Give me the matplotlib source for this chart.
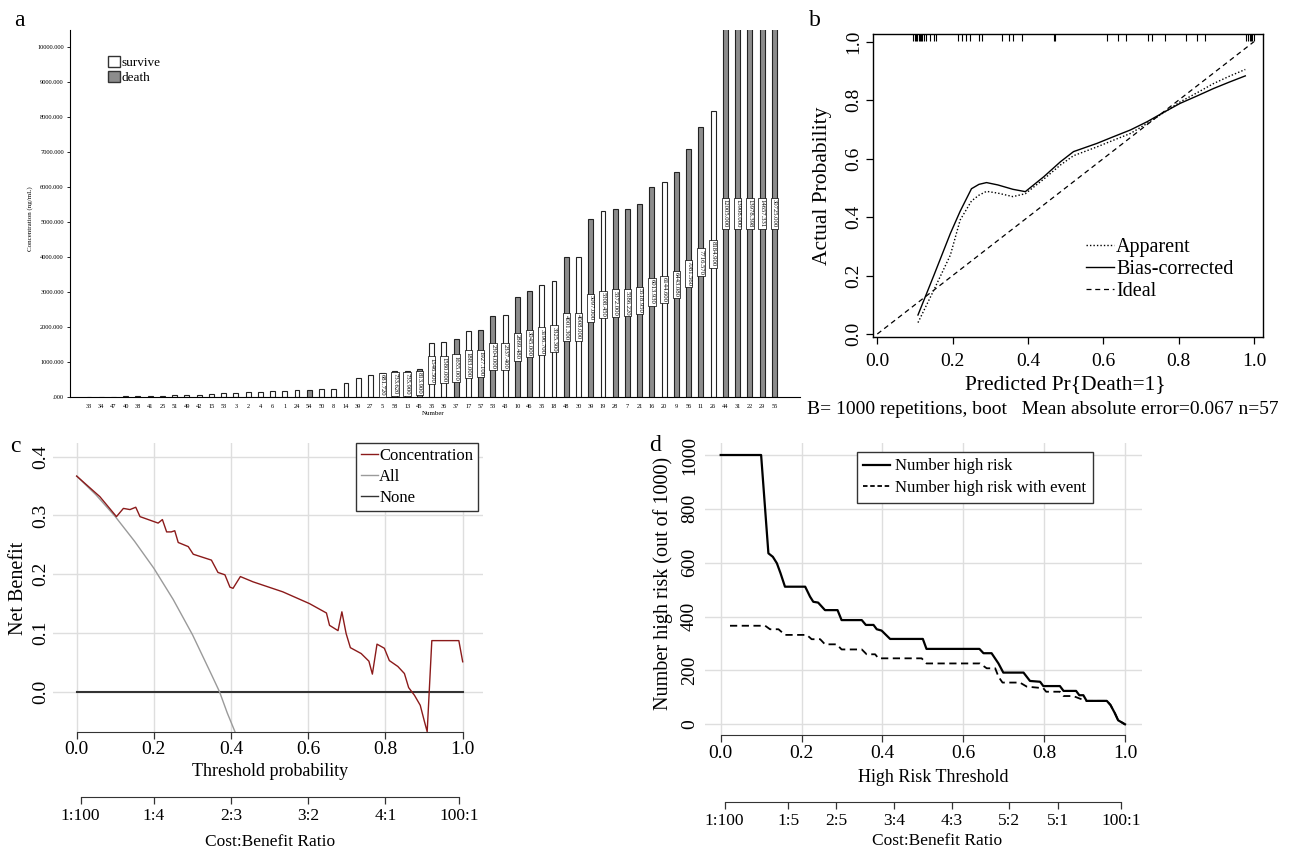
import matplotlib
matplotlib.use('Agg')
import matplotlib.pyplot as plt
import matplotlib.transforms as mtransforms
from matplotlib.patches import Patch
from matplotlib.lines import Line2D

plt.rcParams['font.family'] = ['Liberation Serif', 'DejaVu Serif']

W, H = 1306, 852

# ---- panel a : concentration per patient
numbers = ['33', '34', '47', '40', '38', '41', '25', '51', '49', '42',
           '15', '53', '3', '2', '4', '6', '1', '24', '54', '50',
           '8', '14', '39', '27', '5', '58', '13', '45', '35', '36',
           '37', '17', '57', '53', '43', '10', '46', '35', '18', '48',
           '30', '39', '19', '28', '7', '21', '16', '20', '9', '56',
           '11', '26', '44', '31', '22', '29', '55']
conc = [0, 0, 0, 20, 30, 35, 40, 50, 55, 60,
        100, 105, 110, 130, 150, 165, 185, 200, 200, 235,
        235, 410, 550, 620, 681.72, 733.62, 735.9, 813.9, 1546.5, 1580.0,
        1655.0, 1883.0, 1927.1, 2304.0, 2337.4, 2869.48, 3045.0, 3196.7, 3325.3, 4001.3,
        4008.0, 5097.0, 5308.45, 5372.0, 5386.22, 5518.95, 6013.93, 6144.6, 6443.08, 7081.56,
        7716.57, 8184.9, 12005.0, 13908.0, 13978.398, 14657.331, 30725.0]
died = [0, 0, 0, 0, 0, 0, 0, 0, 0, 0,
        0, 0, 0, 0, 0, 0, 0, 0, 1, 0,
        0, 0, 0, 0, 0, 0, 0, 1, 0, 0,
        1, 0, 1, 1, 0, 1, 1, 0, 0, 1,
        0, 1, 0, 1, 1, 1, 1, 0, 1, 1,
        1, 0, 1, 1, 1, 1, 1]
first_labelled = 24
a_yticks = [0, 1000, 2000, 3000, 4000, 5000, 6000, 7000, 8000, 9000, 10000]

# ---- panel b : calibration curve
rug = [0.095, 0.1, 0.103, 0.106, 0.11, 0.113, 0.117, 0.12, 0.125, 0.13, 0.14, 0.15, 0.155,
       0.215, 0.225, 0.235, 0.245, 0.27, 0.277, 0.33, 0.35, 0.36, 0.385, 0.468, 0.472,
       0.61, 0.64, 0.66, 0.72, 0.73, 0.765, 0.82, 0.85, 0.87,
       0.98, 0.985, 0.99, 0.993, 0.996, 1.0]
pred_grid = [0.108, 0.15, 0.194, 0.22, 0.25, 0.27, 0.29, 0.32, 0.36, 0.393, 0.442, 0.486,
             0.521, 0.583, 0.627, 0.672, 0.716, 0.76, 0.804, 0.85, 0.893, 0.935, 0.977]
bias_corr = [0.065, 0.20, 0.344, 0.42, 0.497, 0.512, 0.518, 0.51, 0.495, 0.487, 0.538, 0.589,
             0.624, 0.652, 0.675, 0.698, 0.726, 0.758, 0.789, 0.815, 0.84, 0.862, 0.883]
apparent = [0.039, 0.15, 0.27, 0.39, 0.455, 0.475, 0.488, 0.482, 0.47, 0.48, 0.53, 0.578,
            0.61, 0.64, 0.663, 0.686, 0.72, 0.757, 0.794, 0.826, 0.857, 0.882, 0.905]
ideal = [0.0, 1.0]

# ---- panel c : decision curve
c_x = [0, 0.06, 0.103, 0.121, 0.138, 0.153, 0.164, 0.211, 0.222, 0.233,
       0.245, 0.254, 0.263, 0.289, 0.302, 0.349, 0.366, 0.384, 0.397, 0.405,
       0.424, 0.457, 0.534, 0.603, 0.647, 0.655, 0.677, 0.687, 0.698, 0.709,
       0.737, 0.757, 0.766, 0.778, 0.797, 0.81, 0.832, 0.849, 0.86, 0.875,
       0.89, 0.901, 0.908, 0.92, 0.99, 1.0]
c_y = [0.367, 0.332, 0.298, 0.312, 0.310, 0.314, 0.298, 0.287, 0.293, 0.272,
       0.272, 0.274, 0.254, 0.247, 0.234, 0.224, 0.203, 0.199, 0.178, 0.176,
       0.196, 0.187, 0.170, 0.150, 0.134, 0.113, 0.104, 0.136, 0.099, 0.075,
       0.065, 0.052, 0.030, 0.081, 0.074, 0.053, 0.043, 0.031, 0.007, -0.006,
       -0.023, -0.051, -0.068, 0.087, 0.087, 0.051]
all_x = [0, 0.05, 0.1, 0.15, 0.2, 0.25, 0.3, 0.35, 0.37, 0.39, 0.41]
all_y = [0.367, 0.335, 0.298, 0.256, 0.21, 0.157, 0.097, 0.028, 0.0, -0.036, -0.068]
none_x = [0, 1.0]
none_y = [0, 0]
cb_c = ['1:100', '1:4', '2:3', '3:2', '4:1', '100:1']

# ---- panel d : clinical impact curve
d_x = [0, 0.1, 0.118, 0.129, 0.139, 0.148, 0.159, 0.209, 0.221, 0.229,
       0.241, 0.258, 0.289, 0.299, 0.349, 0.359, 0.378, 0.386, 0.398, 0.419,
       0.5, 0.509, 0.64, 0.65, 0.67, 0.687, 0.699, 0.749, 0.765, 0.79,
       0.798, 0.839, 0.848, 0.879, 0.887, 0.897, 0.905, 0.955, 0.964, 0.975,
       0.983, 1.0]
d_y = [1000, 1000, 635, 622, 598, 561, 511, 511, 474, 455,
       452, 424, 424, 387, 387, 369, 369, 353, 348, 317,
       317, 280, 280, 264, 264, 226, 192, 192, 161, 158,
       142, 142, 124, 124, 108, 108, 87, 87, 72, 41,
       15, 0]
e_x = [0.023, 0.11, 0.122, 0.143, 0.159, 0.213, 0.225, 0.246, 0.258, 0.287,
       0.299, 0.349, 0.361, 0.382, 0.39, 0.497, 0.509, 0.641, 0.658, 0.679,
       0.687, 0.697, 0.74, 0.757, 0.798, 0.805, 0.839, 0.848, 0.872, 0.889,
       0.905, 0.955, 0.964, 0.975, 0.983, 1.0]
e_y = [366, 366, 353, 353, 332, 332, 316, 316, 297, 297,
       278, 278, 260, 260, 245, 245, 226, 226, 208, 208,
       177, 155, 155, 140, 134, 121, 121, 105, 105, 95,
       87, 87, 72, 41, 15, 0]
cb_d = ['1:100', '1:5', '2:5', '3:4', '4:3', '5:2', '5:1', '100:1']


def px_axes(fig, left, top, right, bottom):
    return fig.add_axes([left / W, 1 - bottom / H, (right - left) / W, (bottom - top) / H])


def fig_text(fig, x, y, s, **kw):
    fig.text(x / W, 1 - y / H, s, **kw)


def ratio_pos(lbl):
    a, b = lbl.split(':')
    return float(a) / (float(a) + float(b))


def ratio_axis(fig, left, right, y, xlim, labels):
    ax = px_axes(fig, left, y - 6, right, y)
    ax.set_xlim(xlim)
    ax.set_ylim(0, 1)
    for s in ['left', 'right', 'top']:
        ax.spines[s].set_visible(False)
    pos = [ratio_pos(l) for l in labels]
    ax.spines['bottom'].set_bounds(pos[0], pos[-1])
    ax.spines['bottom'].set_color('#333333')
    ax.set_xticks(pos)
    ax.set_xticklabels(labels)
    ax.set_yticks([])
    ax.patch.set_alpha(0)
    ax.tick_params(axis='x', direction='out', length=5, width=0.9, color='#333333',
                   labelsize=12.5, pad=3)
    return ax


def dca_axes(ax, xlim, ylim, yticks, ypad):
    ax.set_xlim(xlim)
    ax.set_ylim(ylim)
    ax.set_xticks([0, 0.2, 0.4, 0.6, 0.8, 1.0])
    ax.set_xticklabels(['0.0', '0.2', '0.4', '0.6', '0.8', '1.0'])
    ax.set_yticks(yticks)
    ax.grid(color='#dedede', lw=1.0)
    ax.set_axisbelow(True)
    for s in ['left', 'right', 'top']:
        ax.spines[s].set_visible(False)
    ax.spines['bottom'].set_bounds(0, 1)
    ax.spines['bottom'].set_color('#333333')
    ax.tick_params(axis='x', direction='out', length=5, width=0.9, color='#333333',
                   labelsize=14, pad=2)
    ax.tick_params(axis='y', length=0, labelsize=14, pad=ypad)
    plt.setp(ax.get_yticklabels(), rotation=90, va='center')


fig = plt.figure(figsize=(W / 100, H / 100), dpi=100)

# ================= a
ax = px_axes(fig, 70, 30, 800, 397)
ymax = 10500
pos = list(range(len(conc)))
colors = ['#8c8c8c' if d else 'white' for d in died]
ax.bar(pos, conc, width=0.4, color=colors, edgecolor='#222222', linewidth=0.8)
for i in range(first_labelled, len(conc)):
    ax.text(i, min(conc[i], ymax) / 2, '%.3f' % conc[i], rotation=270, fontsize=4.8,
            ha='center', va='center',
            bbox=dict(boxstyle='square,pad=0.18', fc='white', ec='black', lw=0.5))
ax.set_xlim(-1.55, 58.1)
ax.set_ylim(0, ymax)
ax.set_xticks(pos)
ax.set_xticklabels(numbers)
ax.set_yticks(a_yticks)
ax.set_yticklabels(['.000' if v == 0 else '%d.000' % v for v in a_yticks])
ax.spines['top'].set_visible(False)
ax.spines['right'].set_visible(False)
ax.tick_params(axis='x', length=0, labelsize=4.6, pad=5)
ax.tick_params(axis='y', length=2.5, width=0.6, labelsize=4.6, pad=2)
ax.legend(handles=[Patch(fc='white', ec='#333333', label='survive'),
                   Patch(fc='#8c8c8c', ec='#333333', label='death')],
          loc='upper left', bbox_to_anchor=(108 / W, 1 - 56 / H), bbox_transform=fig.transFigure,
          frameon=False, fontsize=9.5, handlelength=0.9, handleheight=0.9,
          handletextpad=0.15, labelspacing=0.15, borderpad=0, borderaxespad=0)
fig_text(fig, 30, 219, 'Concentration (ng/mL)', rotation=90, fontsize=5, ha='center', va='center')
fig_text(fig, 433, 413, 'Number', fontsize=5, ha='center', va='center')
fig_text(fig, 19, 20, 'a', fontsize=17, ha='center', va='center')

# ================= b
axb = px_axes(fig, 873, 34, 1263, 336.7)
axb.plot(ideal, ideal, color='black', lw=0.9, ls=(0, (4, 3)))
axb.plot(pred_grid, apparent, color='black', lw=1.0, ls=(0, (1, 1.5)))
axb.plot(pred_grid, bias_corr, color='black', lw=1.0)
trans = mtransforms.blended_transform_factory(axb.transData, axb.transAxes)
axb.vlines(rug, 0.978, 1.0, transform=trans, color='black', lw=0.8)
axb.set_xlim(-0.0114, 1.024)
axb.set_ylim(-0.0092, 1.0263)
ticks_b = [0, 0.2, 0.4, 0.6, 0.8, 1.0]
axb.set_xticks(ticks_b)
axb.set_xticklabels(['%.1f' % t for t in ticks_b])
axb.set_yticks(ticks_b)
axb.set_yticklabels(['%.1f' % t for t in ticks_b])
for s in axb.spines.values():
    s.set_linewidth(1.0)
axb.tick_params(direction='out', length=5, width=0.9, labelsize=14, pad=3)
axb.tick_params(axis='x', pad=6.5)
plt.setp(axb.get_yticklabels(), rotation=90, va='center')
axb.legend(handles=[Line2D([], [], color='black', lw=1.0, ls=(0, (1, 1.5)), label='Apparent'),
                    Line2D([], [], color='black', lw=1.0, label='Bias-corrected'),
                    Line2D([], [], color='black', lw=0.9, ls=(0, (4, 3)), label='Ideal')],
           loc='upper left', bbox_to_anchor=(1086 / W, 1 - 238 / H), bbox_transform=fig.transFigure,
           frameon=False, fontsize=14.5, handlelength=1.4, handletextpad=0.1,
           labelspacing=0.15, borderpad=0, borderaxespad=0)
fig_text(fig, 822, 186, 'Actual Probability', rotation=90, fontsize=15.5, ha='center', va='center')
fig_text(fig, 1065, 385, 'Predicted Pr{Death=1}', fontsize=15.5, ha='center', va='center')
fig_text(fig, 1043, 409, 'B= 1000 repetitions, boot   Mean absolute error=0.067 n=57',
         fontsize=14, ha='center', va='center')
fig_text(fig, 815, 20, 'b', fontsize=17, ha='center', va='center')

# ================= c
xlim_c = (-0.0614, 1.0526)
axc = px_axes(fig, 53, 443, 483, 731.7)
dca_axes(axc, xlim_c, (-0.068, 0.4233), [0, 0.1, 0.2, 0.3, 0.4], 2.5)
axc.set_yticklabels(['0.0', '0.1', '0.2', '0.3', '0.4'])
axc.plot(none_x, none_y, color='#333333', lw=1.5)
axc.plot(all_x, all_y, color='#9a9a9a', lw=1.0)
axc.plot(c_x, c_y, color='#8b1a1a', lw=1.0)
axc.legend(handles=[Line2D([], [], color='#8b1a1a', lw=1.0, label='Concentration'),
                    Line2D([], [], color='#9a9a9a', lw=1.0, label='All'),
                    Line2D([], [], color='#333333', lw=1.0, label='None')],
           loc='upper left', bbox_to_anchor=(356 / W, 1 - 443 / H), bbox_transform=fig.transFigure,
           fancybox=False, framealpha=1, edgecolor='#333333', fontsize=12,
           handlelength=1.0, handletextpad=0.1, labelspacing=0.3, borderpad=0.3,
           borderaxespad=0).get_frame().set_linewidth(1.0)
ratio_axis(fig, 53, 483, 796.7, xlim_c, cb_c)
fig_text(fig, 270, 772, 'Threshold probability', fontsize=13, ha='center', va='center')
fig_text(fig, 270, 842, 'Cost:Benefit Ratio', fontsize=12.5, ha='center', va='center')
fig_text(fig, 19, 588, 'Net Benefit', rotation=90, fontsize=14.5, ha='center', va='center')
fig_text(fig, 15, 446, 'c', fontsize=17, ha='center', va='center')

# ================= d
xlim_d = (-0.0388, 1.0413)
axd = px_axes(fig, 705, 443, 1141.7, 735)
dca_axes(axd, xlim_d, (-39.7, 1044.6), [0, 200, 400, 600, 800, 1000], 5)
axd.plot(e_x, e_y, color='black', lw=1.3, ls=(0, (4, 2.5)))
axd.plot(d_x, d_y, color='black', lw=1.6)
axd.legend(handles=[Line2D([], [], color='black', lw=1.6, label='Number high risk'),
                    Line2D([], [], color='black', lw=1.3, ls=(0, (2.5, 1.5)),
                           label='Number high risk with event')],
           loc='upper left', bbox_to_anchor=(856.7 / W, 1 - 451.7 / H), bbox_transform=fig.transFigure,
           fancybox=False, framealpha=1, edgecolor='#333333', fontsize=12,
           handlelength=1.6, handletextpad=0.3, labelspacing=0.35, borderpad=0.4,
           borderaxespad=0).get_frame().set_linewidth(1.0)
ratio_axis(fig, 705, 1141.7, 801.7, xlim_d, cb_d)
fig_text(fig, 933, 778, 'High Risk Threshold', fontsize=13, ha='center', va='center')
fig_text(fig, 937, 841, 'Cost:Benefit Ratio', fontsize=12.5, ha='center', va='center')
fig_text(fig, 663, 583, 'Number high risk (out of 1000)', rotation=90, fontsize=14.5,
         ha='center', va='center')
fig_text(fig, 655, 445, 'd', fontsize=17, ha='center', va='center')

fig.savefig('out.png', dpi=100)
